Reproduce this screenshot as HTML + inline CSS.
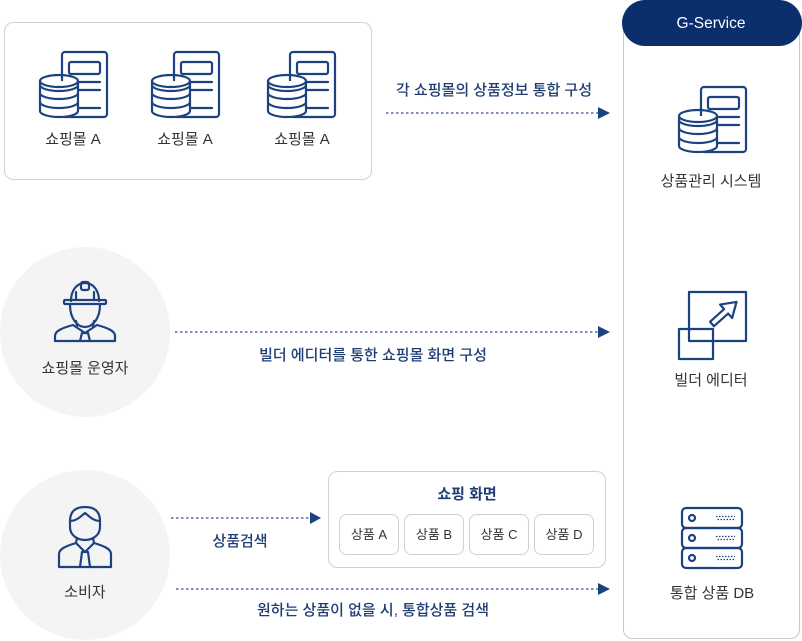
<!DOCTYPE html>
<html>
<head>
<meta charset="utf-8">
<style>
  html,body{margin:0;padding:0;background:#fff;}
  body{width:802px;height:641px;overflow:hidden;}
  svg{display:block;}
  text{font-family:"Liberation Sans","Noto Sans CJK KR",sans-serif;}
  .lbl{font-size:15px;fill:#333;text-anchor:middle;}
  .nv{font-size:15px;fill:#1f3d73;text-anchor:middle;font-weight:500;}
  .pl{font-size:13px;fill:#333;text-anchor:middle;}
  .ic{fill:none;stroke:#1d4280;stroke-width:2.2;stroke-linejoin:round;stroke-linecap:round;}
  .dot{stroke:#7d90b5;stroke-width:2;stroke-dasharray:2.5 2.5;}
</style>
</head>
<body>
<svg width="802" height="641" viewBox="0 0 802 641" xmlns="http://www.w3.org/2000/svg">
  <defs>
    <g id="dbdoc">
      <rect x="22" y="0" width="45" height="65" rx="3" class="ic" fill="#fff"/>
      <rect x="29" y="10" width="31" height="12" rx="2" class="ic"/>
      <line x1="38" y1="30" x2="60" y2="30" class="ic"/>
      <line x1="38" y1="38" x2="60" y2="38" class="ic"/>
      <line x1="38" y1="56" x2="60" y2="56" class="ic"/>
      <path d="M0,29 V59 A19,6 0 0 0 38,59 V29 Z" fill="#fff" stroke="none"/>
      <path d="M0,29 V59 A19,6 0 0 0 38,59 V29" class="ic"/>
      <ellipse cx="19" cy="29" rx="19" ry="6" class="ic" fill="#fff"/>
      <path d="M0,33 A19,6 0 0 0 38,33" class="ic"/>
      <path d="M0,41 A19,6 0 0 0 38,41" class="ic"/>
      <path d="M0,50 A19,6 0 0 0 38,50" class="ic"/>
    </g>
  </defs>

  <!-- top-left box -->
  <rect x="4.5" y="22.5" width="367" height="157" rx="9" fill="#fff" stroke="#cfd0d6" stroke-width="1"/>
  <use href="#dbdoc" x="40" y="52"/>
  <use href="#dbdoc" x="152" y="52"/>
  <use href="#dbdoc" x="268" y="52"/>
  <text class="lbl" x="73" y="144">쇼핑몰 A</text>
  <text class="lbl" x="185" y="144">쇼핑몰 A</text>
  <text class="lbl" x="302" y="144">쇼핑몰 A</text>

  <!-- G-Service column -->
  <rect x="623.5" y="10.5" width="176" height="628" rx="9" fill="#fff" stroke="#c9c9cc" stroke-width="1"/>
  <rect x="622" y="0" width="180" height="46" rx="23" fill="#0b2e6c"/>
  <text x="711" y="28" text-anchor="middle" style="font-size:15.5px;fill:#fff;">G-Service</text>

  <use href="#dbdoc" x="679" y="87"/>
  <text class="lbl" x="711" y="186">상품관리 시스템</text>

  <!-- builder editor icon -->
  <rect x="689" y="292" width="57" height="49" class="ic" stroke-width="2.6"/>
  <rect x="679" y="329" width="34" height="30" class="ic" stroke-width="2.6"/>
  <polygon points="0,-3 19,-3 19,-9 33,0 19,9 19,3 0,3" class="ic" transform="translate(712,324) rotate(-42)"/>
  <text class="lbl" x="711" y="385">빌더 에디터</text>

  <!-- DB server icon -->
  <rect x="682" y="508" width="60" height="20" rx="4" class="ic" stroke-width="2.4"/>
  <rect x="682" y="528" width="60" height="20" rx="4" class="ic" stroke-width="2.4"/>
  <rect x="682" y="548" width="60" height="20" rx="4" class="ic" stroke-width="2.4"/>
  <circle cx="692" cy="518" r="3" class="ic"/>
  <circle cx="692" cy="538" r="3" class="ic"/>
  <circle cx="692" cy="558" r="3" class="ic"/>
  <g stroke="#1d4280" stroke-width="1.3" stroke-dasharray="1.5 1.5">
    <line x1="716" y1="516.5" x2="735" y2="516.5"/>
    <line x1="717.5" y1="519.5" x2="735" y2="519.5"/>
    <line x1="716" y1="536.5" x2="735" y2="536.5"/>
    <line x1="717.5" y1="539.5" x2="735" y2="539.5"/>
    <line x1="716" y1="556.5" x2="735" y2="556.5"/>
    <line x1="717.5" y1="559.5" x2="735" y2="559.5"/>
  </g>
  <text class="lbl" x="712" y="598">통합 상품 DB</text>

  <!-- arrow 1 -->
  <line x1="386" y1="113" x2="599" y2="113" class="dot"/>
  <polygon points="598,107 610,113 598,119" fill="#1d4280"/>
  <text class="nv" x="494" y="95">각 쇼핑몰의 상품정보 통합 구성</text>

  <!-- circle 1: operator -->
  <circle cx="85" cy="332" r="85" fill="#f4f4f5"/>
  <g class="ic">
    <path d="M71,301 C71,290 77,283 85,283 C93,283 99,290 99,301"/>
    <rect x="81" y="282" width="8" height="8" rx="2"/>
    <path d="M76,300 V292 M94,300 V292"/>
    <rect x="64" y="300" width="42" height="4" rx="1"/>
    <path d="M70,305 C70,318 77,327 85,327 C93,327 100,318 100,305"/>
    <path d="M55,341 V336 C55,331 62,328 73,325 L85,333 L97,325 C108,328 115,331 115,336 V341 Z"/>
    <path d="M82,333 L80,341 M88,333 L90,341 M82,333 H88"/>
    <path d="M76,321 L77,326 M94,321 L93,326"/>
  </g>
  <text class="lbl" x="85" y="373">쇼핑몰 운영자</text>

  <!-- arrow 2 -->
  <line x1="175" y1="332" x2="599" y2="332" class="dot"/>
  <polygon points="598,326 610,332 598,338" fill="#1d4280"/>
  <text class="nv" x="373" y="360">빌더 에디터를 통한 쇼핑몰 화면 구성</text>

  <!-- circle 2: consumer -->
  <circle cx="85" cy="555" r="85" fill="#f4f4f5"/>
  <g class="ic">
    <path d="M70,521 C70,511 76,507 85,507 C94,507 100,511 100,521 V527 C100,535 93,540 85,540 C77,540 70,535 70,527 Z"/>
    <path d="M70,521 C77,521 81,516 85,513 C89,516 93,521 100,521"/>
    <path d="M59,567 V554 C59,549 66,546 76,543 L85,552 L94,543 C104,546 111,549 111,554 V567 Z"/>
    <path d="M77,538 L76,543 M93,538 L94,543"/>
    <path d="M82,552 L80,567 M88,552 L90,567 M82,552 H88"/>
  </g>
  <text class="lbl" x="85" y="597">소비자</text>

  <!-- arrow 3 -->
  <line x1="171" y1="518" x2="311" y2="518" class="dot"/>
  <polygon points="310,512 321,518 310,524" fill="#1d4280"/>
  <text class="nv" x="240" y="546">상품검색</text>

  <!-- shopping screen box -->
  <rect x="328.5" y="471.5" width="277" height="96" rx="9" fill="#fff" stroke="#cfd0d6" stroke-width="1"/>
  <text x="467" y="499" text-anchor="middle" style="font-size:15px;fill:#1f3d73;font-weight:bold;">쇼핑 화면</text>
  <rect x="339.5" y="514.5" width="59" height="40" rx="7" fill="#fff" stroke="#cfd0d6"/>
  <rect x="404.5" y="514.5" width="59" height="40" rx="7" fill="#fff" stroke="#cfd0d6"/>
  <rect x="469.5" y="514.5" width="59" height="40" rx="7" fill="#fff" stroke="#cfd0d6"/>
  <rect x="534.5" y="514.5" width="59" height="40" rx="7" fill="#fff" stroke="#cfd0d6"/>
  <text class="pl" x="369" y="539">상품 A</text>
  <text class="pl" x="434" y="539">상품 B</text>
  <text class="pl" x="499" y="539">상품 C</text>
  <text class="pl" x="564" y="539">상품 D</text>

  <!-- arrow 4 -->
  <line x1="176" y1="589" x2="599" y2="589" class="dot"/>
  <polygon points="598,583 610,589 598,595" fill="#1d4280"/>
  <text class="nv" x="373" y="615">원하는 상품이 없을 시, 통합상품 검색</text>
</svg>
</body>
</html>
